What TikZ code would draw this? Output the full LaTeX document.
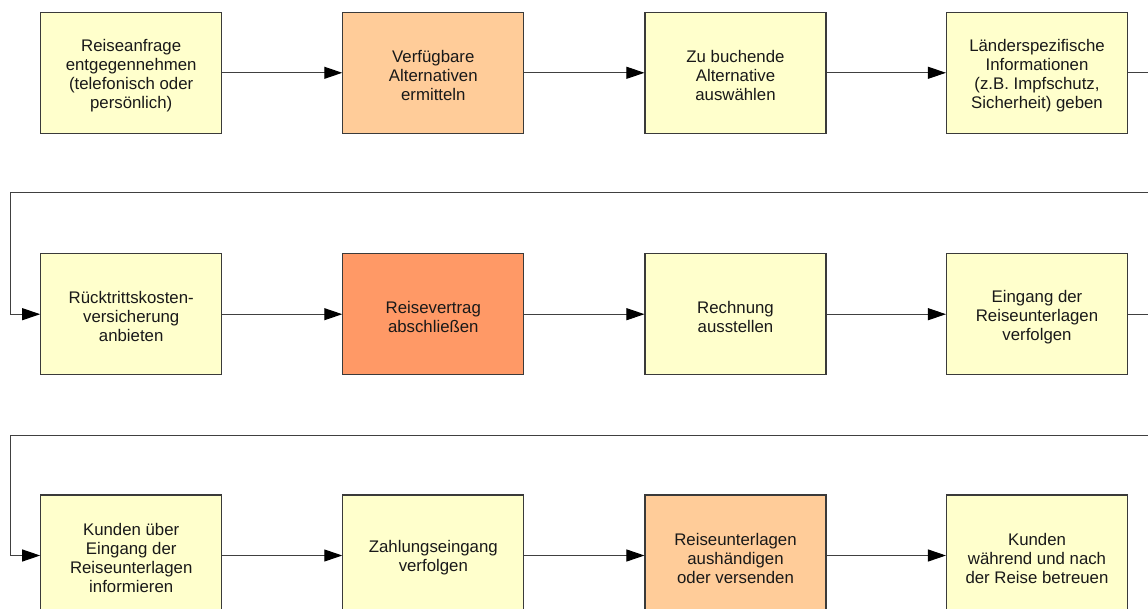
\documentclass[tikz,border=0pt]{standalone}
\usepackage{fontspec}
\setmainfont{Liberation Sans}
\usetikzlibrary{arrows.meta}
\definecolor{lightyel}{HTML}{FFFFCC}
\definecolor{lightorg}{HTML}{FFCC99}
\definecolor{darkorg}{HTML}{FF9966}
\definecolor{edgegray}{HTML}{3A3A3A}
\definecolor{linegray}{HTML}{404040}
\newcommand\boxtxt[1]{\raisebox{-2.5pt}[\height][\depth]{\parbox{175pt}{\centering #1}}}
\begin{document}
\begin{tikzpicture}[x=1pt,y=-1pt,
  stepbox/.style={draw=edgegray, line width=1.1pt, minimum width=181pt, minimum height=121pt,
    inner sep=0pt, font=\fontsize{16.8}{19}\selectfont, text=black!90},
  flow/.style={draw=linegray, line width=1pt, -{Triangle[length=18pt,width=12pt,black]}}]
\useasboundingbox (0,0) rectangle (1148,609);
\clip (0,0) rectangle (1148,609);
\fill[white] (0,0) rectangle (1148,609);
% row 1
\node[stepbox, fill=lightyel] (a1) at (131.2,72.8) {\boxtxt{Reiseanfrage\\entgegennehmen\\(telefonisch oder\\persönlich)}};
\node[stepbox, fill=lightorg] (a2) at (433.3,72.8) {\boxtxt{Verfügbare\\Alternativen\\ermitteln}};
\node[stepbox, fill=lightyel] (a3) at (735.5,72.8) {\boxtxt{Zu buchende\\Alternative\\auswählen}};
\node[stepbox, fill=lightyel] (a4) at (1037,72.8) {\boxtxt{Länderspezifische\\Informationen\\(z.B. Impfschutz,\\Sicherheit) geben}};
% row 2
\node[stepbox, fill=lightyel] (b1) at (131.2,314.2) {\boxtxt{Rücktrittskosten-\\versicherung\\anbieten}};
\node[stepbox, fill=darkorg] (b2) at (433.3,314.2) {\boxtxt{Reisevertrag\\abschließen}};
\node[stepbox, fill=lightyel] (b3) at (735.5,314.2) {\boxtxt{Rechnung\\ausstellen}};
\node[stepbox, fill=lightyel] (b4) at (1037,314.2) {\boxtxt{Eingang der\\Reiseunterlagen\\verfolgen}};
% row 3
\node[stepbox, fill=lightyel] (c1) at (131.2,555.5) {\boxtxt{Kunden über\\Eingang der\\Reiseunterlagen\\informieren}};
\node[stepbox, fill=lightyel] (c2) at (433.3,555.5) {\boxtxt{Zahlungseingang\\verfolgen}};
\node[stepbox, fill=lightorg] (c3) at (735.5,555.5) {\boxtxt{Reiseunterlagen\\aushändigen\\oder versenden}};
\node[stepbox, fill=lightyel] (c4) at (1037,555.5) {\boxtxt{Kunden\\während und nach\\der Reise betreuen}};
% coordinates for the returns
\coordinate (r1) at (1170,192.3);
\coordinate (l1) at (10.5,192.3);
\coordinate (r2) at (1170,435.7);
\coordinate (l2) at (10.5,435.7);
% connectors
\draw[flow] (a1) -- (a2);
\draw[flow] (a2) -- (a3);
\draw[flow] (a3) -- (a4);
\draw[flow] (a4.east) -| (r1) -- (l1) |- (b1.west);
\draw[flow] (b1) -- (b2);
\draw[flow] (b2) -- (b3);
\draw[flow] (b3) -- (b4);
\draw[flow] (b4.east) -| (r2) -- (l2) |- (c1.west);
\draw[flow] (c1) -- (c2);
\draw[flow] (c2) -- (c3);
\draw[flow] (c3) -- (c4);
\end{tikzpicture}
\end{document}
